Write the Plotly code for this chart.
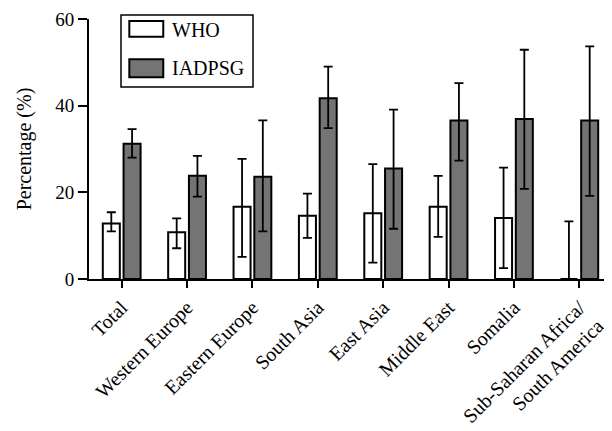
import plotly.graph_objects as go

categories = ["Total", "Western Europe", "Eastern Europe", "South Asia", "East Asia",
              "Middle East", "Somalia", "Sub-Saharan Africa/<br>South America"]
who_vals = [12.8, 10.8, 16.7, 14.6, 15.2, 16.7, 14.1, 0.0]
who_err_up = [2.6, 3.2, 11.0, 5.1, 11.3, 7.1, 11.6, 13.3]
who_err_down = [1.8, 3.7, 11.6, 5.1, 11.4, 7.0, 11.6, 0.0]
iad_vals = [31.2, 23.8, 23.6, 41.7, 25.5, 36.6, 36.9, 36.6]
iad_err_up = [3.4, 4.6, 13.0, 7.3, 13.6, 8.6, 16.0, 17.1]
iad_err_down = [3.2, 4.8, 12.6, 6.9, 13.9, 9.3, 16.1, 17.4]
y_ticks = [0, 20, 40, 60]
series_names = ["WHO", "IADPSG"]

FONT = "Times New Roman, Liberation Serif, serif"
GRAY = "#747474"
FS = 20

fig = go.Figure()
fig.add_trace(go.Bar(
    x=categories, y=who_vals, name=series_names[0],
    marker=dict(color="white", line=dict(color="black", width=2)),
    error_y=dict(type="data", symmetric=False, array=who_err_up, arrayminus=who_err_down,
                 color="black", thickness=1.8, width=4.5),
))
fig.add_trace(go.Bar(
    x=categories, y=iad_vals, name=series_names[1],
    marker=dict(color=GRAY, line=dict(color="black", width=2)),
    error_y=dict(type="data", symmetric=False, array=iad_err_up, arrayminus=iad_err_down,
                 color="black", thickness=1.8, width=4.5),
))

# manual legend
fig.add_shape(type="rect", xref="paper", yref="paper", x0=0.0612, x1=0.3136, y0=0.738, y1=1.015,
              line=dict(color="black", width=1.5), fillcolor="white", layer="above")
fig.add_shape(type="rect", xref="paper", yref="paper", x0=0.0771, x1=0.142, y0=0.932, y1=0.992,
              line=dict(color="black", width=2), fillcolor="white", layer="above")
fig.add_shape(type="rect", xref="paper", yref="paper", x0=0.0771, x1=0.142, y0=0.776, y1=0.845,
              line=dict(color="black", width=2), fillcolor=GRAY, layer="above")
fig.add_annotation(xref="paper", yref="paper", x=0.155, y=0.959, text=series_names[0],
                   showarrow=False, xanchor="left", yanchor="middle",
                   font=dict(family=FONT, size=FS, color="black"))
fig.add_annotation(xref="paper", yref="paper", x=0.155, y=0.812, text=series_names[1],
                   showarrow=False, xanchor="left", yanchor="middle",
                   font=dict(family=FONT, size=FS, color="black"))

fig.update_layout(
    width=604, height=423,
    margin=dict(l=81, r=0, t=11, b=152, autoexpand=False),
    plot_bgcolor="white", paper_bgcolor="white",
    barmode="group", bargap=0.365, bargroupgap=0.18,
    showlegend=False,
    font=dict(family=FONT, size=FS, color="black"),
    xaxis=dict(
        range=[-0.5, 7.5], showline=True, linecolor="black", linewidth=2,
        ticks="outside", ticklen=7, tickwidth=2, tickcolor="black",
        tickangle=-45, tickfont=dict(family=FONT, size=FS, color="black"),
        showgrid=False, zeroline=False, automargin=False,
    ),
    yaxis=dict(
        range=[0, 60], tickvals=y_ticks, showline=True, linecolor="black", linewidth=2,
        ticks="outside", ticklen=9, tickwidth=2, tickcolor="black",
        tickfont=dict(family=FONT, size=19, color="black"),
        ticklabeloverflow="allow",
        title=dict(text="Percentage (%)", font=dict(family=FONT, size=FS, color="black"), standoff=18),
        showgrid=False, zeroline=False, automargin=False,
    ),
)

fig.write_html("out.html")
